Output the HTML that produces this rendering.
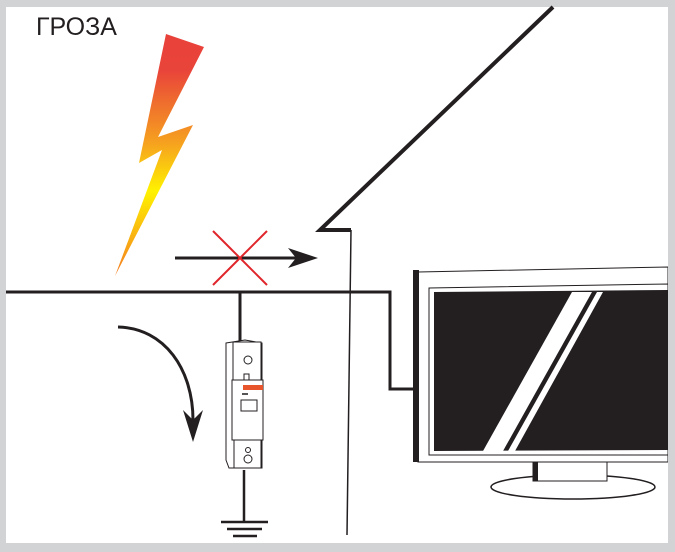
<!DOCTYPE html>
<html><head><meta charset="utf-8"><style>
html,body{margin:0;padding:0;background:#d1d3d4;}
svg{display:block}
</style></head><body>
<svg width="675" height="552" viewBox="0 0 675 552" xmlns="http://www.w3.org/2000/svg">
<defs>
<linearGradient id="lg" x1="0" y1="34" x2="0" y2="276" gradientUnits="userSpaceOnUse">
<stop offset="0" stop-color="#e8413a"/>
<stop offset="0.15" stop-color="#e9443a"/>
<stop offset="0.45" stop-color="#f6a11f"/>
<stop offset="0.65" stop-color="#fff200"/>
<stop offset="1" stop-color="#f47a20"/>
</linearGradient>
</defs>
<rect x="0" y="0" width="675" height="552" fill="#d1d3d4"/>
<rect x="6" y="7" width="662" height="536" fill="#fff"/>
<text x="36" y="35" font-family="Liberation Sans, DejaVu Sans, sans-serif" font-size="25" fill="#231f20">ГРОЗА</text>
<polygon points="166,34 204,47 158,137 193,125 115,276 162,150 139,163" fill="url(#lg)"/>
<!-- horizontal arrow -->
<line x1="175" y1="258" x2="305" y2="258" stroke="#231f20" stroke-width="3"/>
<polygon points="318,258 288,248 296,258 288,268" fill="#231f20"/>
<line x1="213" y1="231" x2="267" y2="285" stroke="#e0262b" stroke-width="2"/>
<line x1="267" y1="231" x2="213" y2="285" stroke="#e0262b" stroke-width="2"/>
<!-- roof / wall -->
<polyline points="553,7 320,230 351,230" fill="none" stroke="#231f20" stroke-width="4"/>
<line x1="351" y1="230" x2="347" y2="535" stroke="#231f20" stroke-width="1.5"/>
<!-- main line -->
<polyline points="6,292 390,292 390,389 413,389" fill="none" stroke="#231f20" stroke-width="3"/>
<line x1="240" y1="292" x2="240" y2="342" stroke="#231f20" stroke-width="3"/>
<!-- breaker -->
<g stroke="#231f20" stroke-width="1" fill="#fff">
<polygon points="226,343 245,340 262,343 262,468 229,468 226,460"/>
<rect x="233" y="342" width="28" height="38"/>
<rect x="232" y="380" width="31" height="60"/>
<rect x="234" y="440" width="27" height="28"/>
<rect x="241" y="400" width="16" height="11"/>
<rect x="244" y="374" width="5" height="6"/>
<circle cx="248" cy="360" r="4"/>
<circle cx="248" cy="459" r="4"/>
<circle cx="248" cy="450" r="2.5"/>
</g>
<rect x="243" y="385" width="20" height="5" fill="#e8542b"/>
<rect x="242" y="393" width="6" height="2" fill="#555"/>
<line x1="244" y1="470" x2="244" y2="522" stroke="#231f20" stroke-width="2.5"/>
<line x1="221" y1="522" x2="268" y2="522" stroke="#231f20" stroke-width="2.5"/>
<line x1="227" y1="529" x2="262" y2="529" stroke="#231f20" stroke-width="2.5"/>
<line x1="233" y1="536" x2="257" y2="536" stroke="#231f20" stroke-width="2.5"/>
<!-- curved arrow -->
<path d="M118,327 C165,328 193,370 193,420" fill="none" stroke="#231f20" stroke-width="3"/>
<polygon points="193,442 183,410 193,420 203,410" fill="#231f20"/>
<!-- TV -->
<polygon points="418,272 668,267 668,462 418,462" fill="#fff" stroke="#231f20" stroke-width="1"/>
<rect x="413" y="270" width="6" height="192" fill="#231f20"/>
<polygon points="429,288 668,284 668,455 429,455" fill="#fff" stroke="#231f20" stroke-width="1"/>
<polygon points="434,292 668,290 668,450 434,451" fill="#231f20"/>
<polygon points="572,292 592,292 503,451 483,451" fill="#fff"/>
<polygon points="597,292 603,292 515,451 508,451" fill="#fff"/>
<ellipse cx="573" cy="487" rx="82" ry="12" fill="#fff" stroke="#231f20" stroke-width="1.5"/>
<rect x="533" y="462" width="74" height="19" fill="#fff" stroke="#231f20" stroke-width="1"/>
<rect x="533" y="462" width="5" height="19" fill="#231f20"/>
<rect x="668" y="260" width="7" height="292" fill="#d1d3d4"/>
</svg>
</body></html>
